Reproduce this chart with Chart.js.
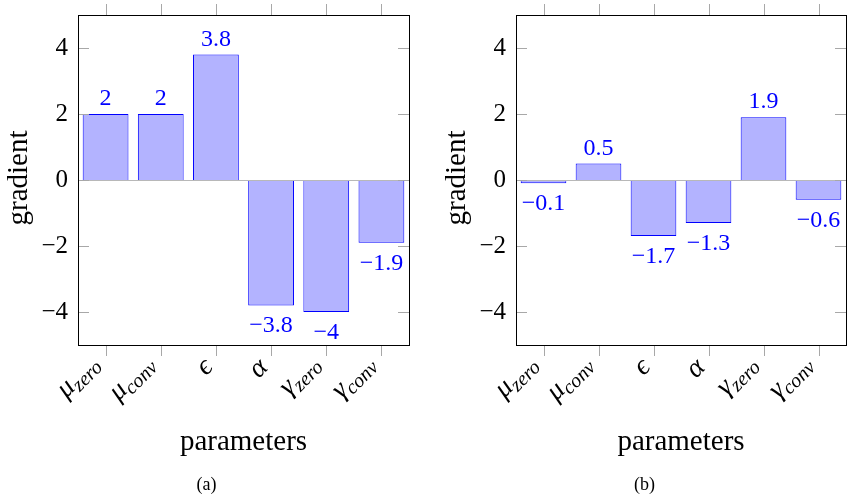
<!DOCTYPE html>
<html><head><meta charset="utf-8">
<script src="https://cdn.jsdelivr.net/npm/chart.js@4"></script>
<style>
html,body{margin:0;padding:0;background:#fff;width:847px;height:498px;overflow:hidden}
#wrap{position:relative;width:847px;height:498px}
canvas{position:absolute;top:0}
</style></head><body>
<div id="wrap">
<canvas id="ca" width="424" height="498" style="left:0px"></canvas>
<canvas id="cb" width="423" height="498" style="left:424px"></canvas>
</div>
<script>
// ---- data ----
const categories = ['μ_zero', 'μ_conv', 'ϵ', 'α', 'γ_zero', 'γ_conv'];
const valuesA = [2, 2, 3.8, -3.8, -4, -1.9];
const valuesB = [-0.1, 0.5, -1.7, -1.3, 1.9, -0.6];
const yTicks = [-4, -2, 0, 2, 4];
const yMin = -5, yMax = 5;
const xTitle = 'parameters';
const yTitle = 'gradient';

const SERIF = '"Liberation Serif", "DejaVu Serif", serif';
function fmt(v) { return v < 0 ? '\u2212' + String(Math.abs(v)) : String(v); }

const deco = {
  id: 'deco',
  afterDatasetsDraw(chart, args, opts) {
    const ctx = chart.ctx, a = chart.chartArea;
    const xs = chart.scales.x, ys = chart.scales.y;
    function line(x1, y1, x2, y2) { ctx.beginPath(); ctx.moveTo(x1, y1); ctx.lineTo(x2, y2); ctx.stroke(); }
    ctx.save();
    ctx.lineWidth = 1;
    // zero line
    ctx.strokeStyle = '#b8b8b8';
    const y0 = Math.round(ys.getPixelForValue(0)) + 0.5;
    line(a.left, y0, a.right, y0);
    // tick marks
    ctx.strokeStyle = '#a8a8a8';
    categories.forEach((c, i) => {
      const px = Math.round(xs.getPixelForValue(i)) + 0.5;
      line(px, a.top, px, a.top - 11);
      line(px, a.bottom, px, a.bottom + 11);
    });
    yTicks.forEach(v => {
      const py = Math.round(ys.getPixelForValue(v)) + 0.5;
      line(a.left, py, a.left + 11, py);
      line(a.right, py, a.right - 11, py);
    });
    // box
    ctx.strokeStyle = '#000';
    ctx.strokeRect(a.left + 0.5, a.top + 0.5, a.right - a.left, a.bottom - a.top);

    // data labels
    const meta = chart.getDatasetMeta(0);
    const vals = chart.data.datasets[0].data;
    ctx.fillStyle = '#0000ff';
    ctx.font = '24px ' + SERIF;
    ctx.textAlign = 'center';
    ctx.textBaseline = 'alphabetic';
    meta.data.forEach((el, i) => {
      const v = vals[i];
      if (v >= 0) ctx.fillText(fmt(v), el.x, el.y - 9);
      else ctx.fillText(fmt(v), el.x, el.y + 27);
    });

    // y tick labels
    ctx.fillStyle = '#000';
    ctx.font = '25px ' + SERIF;
    ctx.textAlign = 'right';
    ctx.textBaseline = 'middle';
    yTicks.forEach(v => {
      ctx.fillText(fmt(v), a.left - 10, ys.getPixelForValue(v));
    });

    // x tick labels (rotated, with subscripts)
    categories.forEach((c, i) => {
      const parts = c.split('_');
      const main = parts[0], sub = parts[1] || '';
      const tx = xs.getPixelForValue(i);
      ctx.save();
      ctx.translate(tx - 2, 368.5);
      ctx.rotate(-Math.PI / 4);
      ctx.textAlign = 'left';
      ctx.textBaseline = 'alphabetic';
      ctx.font = 'italic 28px ' + SERIF;
      const mw = ctx.measureText(main).width;
      ctx.font = 'italic 20px ' + SERIF;
      const sw = sub ? ctx.measureText(sub).width : 0;
      const W = mw + sw;
      ctx.font = 'italic 28px ' + SERIF;
      ctx.fillText(main, -W, sub ? -5 : 0);
      if (sub) {
        ctx.font = 'italic 20px ' + SERIF;
        ctx.fillText(sub, -W + mw, 0);
      }
      ctx.restore();
    });

    // axis titles
    ctx.font = '29px ' + SERIF;
    ctx.textAlign = 'center';
    ctx.textBaseline = 'alphabetic';
    ctx.fillText(xTitle, (a.left + a.right) / 2, 450);
    ctx.save();
    ctx.translate(a.left - 51, 178);
    ctx.rotate(-Math.PI / 2);
    ctx.fillText(yTitle, 0, 0);
    ctx.restore();

    // caption
    ctx.font = '18px ' + SERIF;
    ctx.fillText(opts.caption, a.left + 128.5, 490);
    ctx.restore();
  }
};

function makeChart(id, values, caption, padLeft, padRight) {
  return new Chart(document.getElementById(id), {
    type: 'bar',
    data: {
      labels: categories,
      datasets: [{
        data: values,
        backgroundColor: '#b3b3ff',
        borderColor: '#0000ff',
        borderWidth: 1,
        borderSkipped: 'start',
        categoryPercentage: 1.0,
        barPercentage: 0.83
      }]
    },
    options: {
      responsive: false,
      animation: false,
      devicePixelRatio: 1,
      layout: { padding: { left: padLeft, right: padRight, top: 15, bottom: 153 } },
      scales: {
        x: { type: 'category', display: false, offset: true },
        y: { type: 'linear', display: false, min: yMin, max: yMax }
      },
      plugins: {
        legend: { display: false },
        tooltip: { enabled: false },
        deco: { caption: caption }
      }
    },
    plugins: [deco]
  });
}

makeChart('ca', valuesA, '(a)', 78, 15);
makeChart('cb', valuesB, '(b)', 92, 1);
</script>
</body></html>
